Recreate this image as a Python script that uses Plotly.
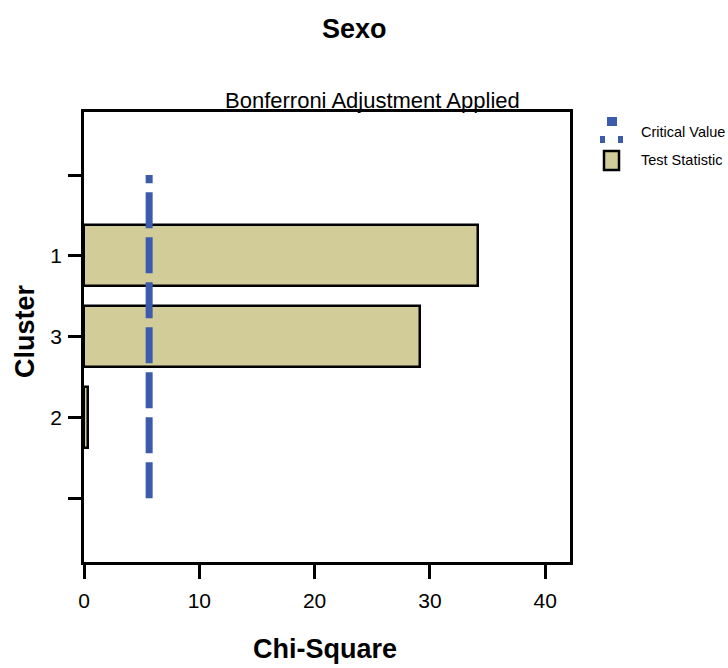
import plotly.graph_objects as go

# ---- data ----
clusters = ["1", "3", "2"]
chi_square = [34.2, 29.1, 0.35]
critical_value = 5.65
tick_labels = ["", "1", "3", "2", ""]
x_ticks = [0, 10, 20, 30, 40]

FONT = "Arial, Liberation Sans, sans-serif"
BAR_FILL = "#D2CD98"
BLUE = "#3D5BAD"

# plot area in pixels
W, H = 728, 668
L, R, T, B = 84, 570, 112, 562


def px(x):
    return (x - L) / (R - L)


def py(y):
    return (B - y) / (B - T)


fig = go.Figure()

ypos = [tick_labels.index(c) for c in clusters]
fig.add_trace(go.Bar(
    x=chi_square, y=ypos, orientation="h", width=0.755,
    marker=dict(color=BAR_FILL, line=dict(color="black", width=2.5)),
    showlegend=False, hoverinfo="x+y",
))

fig.add_trace(go.Scatter(
    x=[critical_value, critical_value], y=[len(tick_labels) - 1, 0],
    mode="lines", line=dict(color=BLUE, width=7, dash="36px,9px"),
    showlegend=False,
))

fig.update_xaxes(
    range=[0, 42.15], tickvals=x_ticks, ticks="outside", ticklen=14, tickwidth=2.5,
    tickcolor="black", showline=True, linecolor="black", linewidth=2.5, mirror=True,
    showgrid=False, zeroline=False, tickfont=dict(family=FONT, size=21, color="black"),
    ticklabelstandoff=4,
)
fig.update_yaxes(
    range=[4.79, -0.78], tickvals=list(range(len(tick_labels))), ticktext=tick_labels,
    ticks="outside", ticklen=13, tickwidth=2.5, tickcolor="black",
    showline=True, linecolor="black", linewidth=2.5, mirror=True,
    showgrid=False, zeroline=False, tickfont=dict(family=FONT, size=21, color="black"),
    ticklabelstandoff=2,
)

ann = [
    dict(text="<b>Sexo</b>", x=px(354), y=py(29), font=dict(size=27)),
    dict(text="Bonferroni Adjustment Applied", x=px(372), y=py(100), font=dict(size=22)),
    dict(text="<b>Chi-Square</b>", x=px(325), y=py(649), font=dict(size=27)),
    dict(text="<b>Cluster</b>", x=px(25), y=py(331), font=dict(size=27), textangle=-90),
    dict(text="Critical Value", x=px(639), y=py(132), xanchor="left", font=dict(size=14.5)),
    dict(text="Test Statistic", x=px(639), y=py(160), xanchor="left", font=dict(size=14.5)),
]
annotations = []
for a in ann:
    base = dict(xref="paper", yref="paper", showarrow=False, xanchor="center", yanchor="middle")
    base.update(a)
    base["font"] = dict(family=FONT, color="black", **a["font"])
    annotations.append(base)

shapes = [
    dict(type="rect", xref="paper", yref="paper", x0=px(607), x1=px(617), y0=py(126), y1=py(117),
         fillcolor=BLUE, line=dict(width=0)),
    dict(type="rect", xref="paper", yref="paper", x0=px(600), x1=px(605), y0=py(143), y1=py(136),
         fillcolor=BLUE, line=dict(width=0)),
    dict(type="rect", xref="paper", yref="paper", x0=px(618), x1=px(623), y0=py(143), y1=py(136),
         fillcolor=BLUE, line=dict(width=0)),
    dict(type="rect", xref="paper", yref="paper", x0=px(604), x1=px(619), y0=py(170), y1=py(151),
         fillcolor=BAR_FILL, line=dict(color="black", width=2.5)),
]

fig.update_layout(
    width=W, height=H, margin=dict(l=L, r=W - R, t=T, b=H - B),
    plot_bgcolor="white", paper_bgcolor="white",
    annotations=annotations, shapes=shapes, showlegend=False,
    bargap=0,
)

fig.write_html("out.html")
